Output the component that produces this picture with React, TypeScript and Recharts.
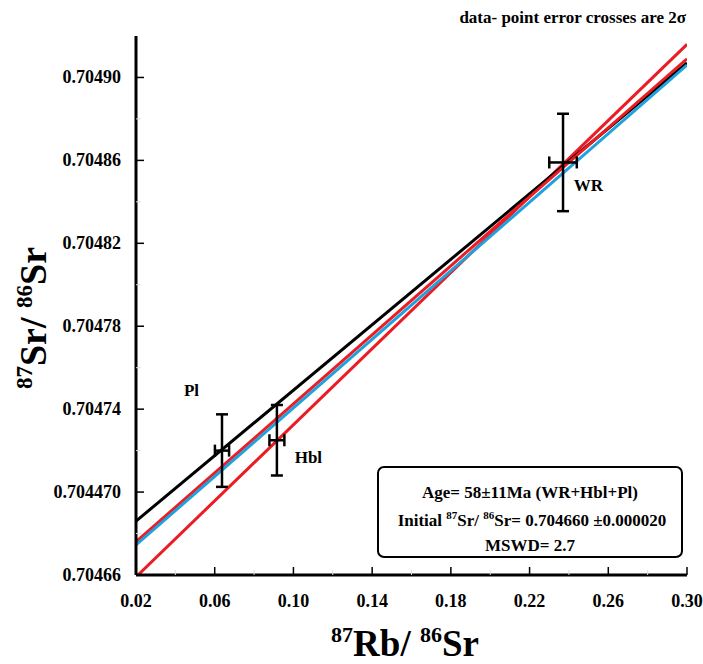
import React from 'react';
import { ComposedChart, Line, Scatter, ErrorBar, XAxis, YAxis, LabelList, Customized } from 'recharts';

// measured points (87Rb/86Sr, 87Sr/86Sr) with 2 sigma errors
const pointNames = ['Pl', 'Hbl', 'WR'];
const rbSr = [0.0637, 0.0916, 0.237];
const srSr = [0.70472, 0.704725, 0.704859];
const rbErr = [0.0036, 0.0038, 0.007];
const srErr = [0.0000175, 0.000017, 0.0000235];

// isochron lines (end points)
const lineX = [0.02, 0.3];
const blackY = [0.704686, 0.704907];
const blueY = [0.7046745, 0.704906];
const redThinY = [0.704676, 0.704909];
const redX = [0.021, 0.3];
const redY = [0.70466, 0.704916];

const xTicks = [0.02, 0.04, 0.06, 0.08, 0.1, 0.12, 0.14, 0.16, 0.18, 0.2, 0.22, 0.24, 0.26, 0.28, 0.3];
const xTickLabels = ['0.02', '', '0.06', '', '0.10', '', '0.14', '', '0.18', '', '0.22', '', '0.26', '', '0.30'];
const yTicks = [0.70466, 0.70468, 0.7047, 0.70472, 0.70474, 0.70476, 0.70478, 0.7048, 0.70482, 0.70484, 0.70486, 0.70488, 0.7049];
const yTickLabels = ['0.70466', '', '0.704470', '', '0.70474', '', '0.70478', '', '0.70482', '', '0.70486', '', '0.70490'];

const FONT = "'Liberation Serif', 'Times New Roman', serif";

const points = pointNames.map((name, i) => ({ name, x: rbSr[i], y: srSr[i], ex: rbErr[i], ey: srErr[i] }));
const toLine = (xs: number[], ys: number[]) => xs.map((x, i) => ({ x, y: ys[i] }));

const labelOffsets: Record<string, [number, number]> = { Pl: [-26, -50], Hbl: [36, 27], WR: [30, 33] };

function YTick(props: any) {
  const { x, y, index } = props;
  const label = yTickLabels[index];
  const major = label !== '';
  return (
    <g>
      <line x1={x} x2={x + (major ? 8 : 5)} y1={y} y2={y} stroke={major ? '#000' : '#ddd'} strokeWidth={major ? 1.5 : 1} />
      {major && (
        <text x={x - 15} y={y} dy={6} textAnchor="end" fontFamily={FONT} fontWeight="bold" fontSize={18} fill="#000">
          {label}
        </text>
      )}
    </g>
  );
}

function XTick(props: any) {
  const { x, y, index } = props;
  const label = xTickLabels[index];
  const major = label !== '';
  return (
    <g>
      <line x1={x} x2={x} y1={y} y2={y - (major ? 8 : 5)} stroke={major ? '#000' : '#ddd'} strokeWidth={major ? 1.5 : 1} />
      {major && (
        <text x={x} y={y + 32} textAnchor="middle" fontFamily={FONT} fontWeight="bold" fontSize={18} fill="#000">
          {label}
        </text>
      )}
    </g>
  );
}

function PointLabel(props: any) {
  const { x, y, value } = props;
  const [dx, dy] = labelOffsets[value] || [0, 0];
  return (
    <text x={x + dx} y={y + dy} textAnchor="middle" fontFamily={FONT} fontWeight="bold" fontSize={17} fill="#000">
      {value}
    </text>
  );
}

function Annotations() {
  return (
    <g fontFamily={FONT} fontWeight="bold" fill="#000">
      <text x={686} y={23} textAnchor="end" fontSize={17}>data- point error crosses are 2σ</text>
      <text x={405} y={656} textAnchor="middle" fontSize={37}>
        <tspan fontSize={22} dy={-14}>87</tspan>
        <tspan dy={14}>Rb/ </tspan>
        <tspan fontSize={22} dy={-14}>86</tspan>
        <tspan dy={14}>Sr</tspan>
      </text>
      <text x={0} y={0} transform="translate(46,318) rotate(-90)" textAnchor="middle" fontSize={38}>
        <tspan fontSize={23} dy={-14}>87</tspan>
        <tspan dy={14}>Sr/ </tspan>
        <tspan fontSize={23} dy={-14}>86</tspan>
        <tspan dy={14}>Sr</tspan>
      </text>
      <rect x={378} y={467} width={304} height={90} rx={6} ry={6} fill="#fff" stroke="#000" strokeWidth={2} />
      <text x={530} y={498} textAnchor="middle" fontSize={17}>Age= 58±11Ma (WR+Hbl+Pl)</text>
      <text x={532} y={526} textAnchor="middle" fontSize={17}>
        Initial <tspan fontSize={11} dy={-7}>87</tspan><tspan dy={7}>Sr/ </tspan>
        <tspan fontSize={11} dy={-7}>86</tspan><tspan dy={7}>Sr= 0.704660 ±0.000020</tspan>
      </text>
      <text x={530} y={551} textAnchor="middle" fontSize={17}>MSWD= 2.7</text>
    </g>
  );
}

export default function App() {
  return (
    <div style={{ position: 'absolute', left: 0, top: 0, background: '#fff' }}>
      <ComposedChart width={703} height={664} margin={{ top: 36, right: 16, bottom: 0, left: 0 }}>
        <XAxis
          dataKey="x"
          type="number"
          domain={[0.02, 0.3]}
          ticks={xTicks}
          interval={0}
          tick={<XTick />}
          tickLine={false}
          tickSize={0}
          tickMargin={0}
          height={89}
          axisLine={{ stroke: '#000', strokeWidth: 3 }}
          allowDataOverflow
        />
        <XAxis xAxisId="top" orientation="top" type="number" domain={[0.02, 0.3]} height={0} tick={false} tickLine={false} axisLine={{ stroke: '#000', strokeWidth: 3 }} />
        <YAxis
          dataKey="y"
          type="number"
          domain={[0.70466, 0.70492]}
          ticks={yTicks}
          interval={0}
          tick={<YTick />}
          tickLine={false}
          tickSize={0}
          tickMargin={0}
          width={136}
          axisLine={{ stroke: '#000', strokeWidth: 3 }}
          allowDataOverflow
        />
        <YAxis yAxisId="right" orientation="right" type="number" domain={[0.70466, 0.70492]} width={0} tick={false} tickLine={false} axisLine={{ stroke: '#000', strokeWidth: 3 }} />
        <Line data={toLine(redX, redY)} dataKey="y" stroke="#ec1c24" strokeWidth={3} dot={false} isAnimationActive={false} />
        <Line data={toLine(lineX, blackY)} dataKey="y" stroke="#000" strokeWidth={3} dot={false} isAnimationActive={false} />
        <Line data={toLine(lineX, redThinY)} dataKey="y" stroke="#ec1c24" strokeWidth={3} dot={false} isAnimationActive={false} />
        <Line data={toLine(lineX, blueY)} dataKey="y" stroke="#1ea2de" strokeWidth={3} dot={false} isAnimationActive={false} />
        <Scatter data={points} dataKey="y" shape={() => <g />} isAnimationActive={false}>
          <ErrorBar dataKey="ey" direction="y" width={6} stroke="#000" strokeWidth={2.5} />
          <ErrorBar dataKey="ex" direction="x" width={6} stroke="#000" strokeWidth={2.5} />
          <LabelList dataKey="name" content={<PointLabel />} />
        </Scatter>
        <Customized component={Annotations} />
      </ComposedChart>
    </div>
  );
}
